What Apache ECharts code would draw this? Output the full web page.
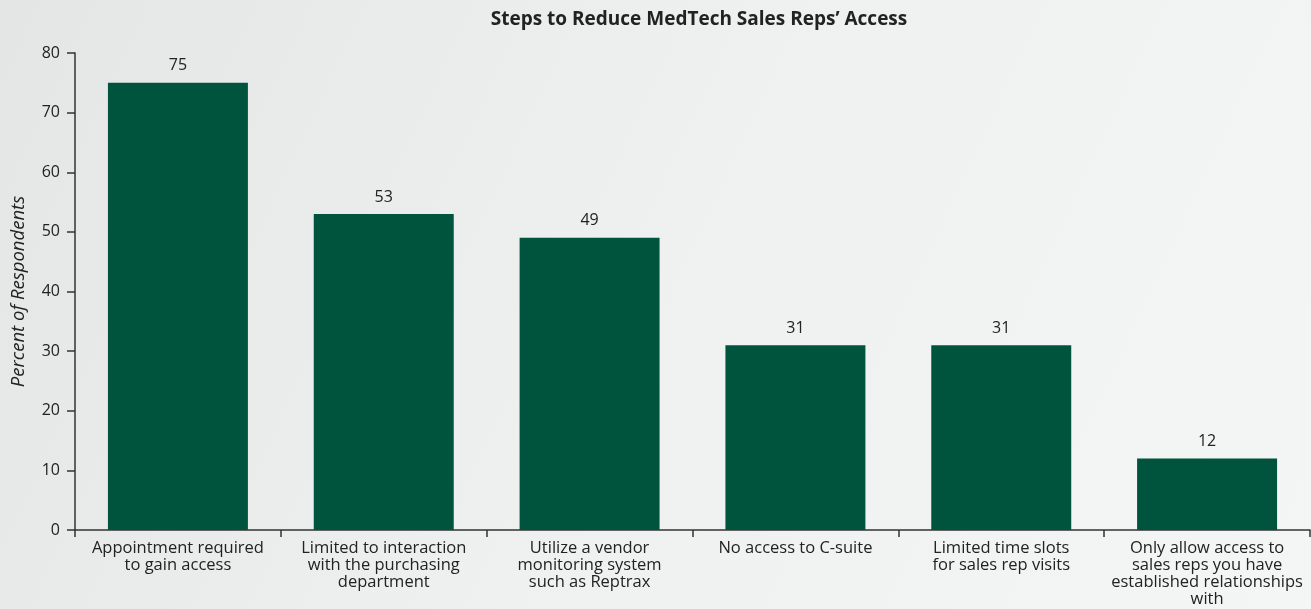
<!DOCTYPE html>
<html>
<head>
<meta charset="utf-8">
<script src="https://cdn.jsdelivr.net/npm/echarts@6/dist/echarts.min.js"></script>
<style>
html,body{margin:0;padding:0;}
#c{width:1311px;height:609px;}
</style>
</head>
<body>
<div id="c"></div>
<script>
const categories = [
  "Appointment required\nto gain access",
  "Limited to interaction\nwith the purchasing\ndepartment",
  "Utilize a vendor\nmonitoring system\nsuch as Reptrax",
  "No access to C-suite",
  "Limited time slots\nfor sales rep visits",
  "Only allow access to\nsales reps you have\nestablished relationships\nwith"
];
const values = [75, 53, 49, 31, 31, 12];
const yTicks = [0, 10, 20, 30, 40, 50, 60, 70, 80];

const chart = echarts.init(document.getElementById('c'));
const font = '"Open Sans", "Noto Sans", sans-serif';
chart.setOption({
  backgroundColor: {
    type: 'linear', x: 0, y: 0, x2: 1, y2: 1,
    colorStops: [
      {offset: 0, color: '#e4e5e5'},
      {offset: 0.5, color: '#eff0f0'},
      {offset: 1, color: '#f4f5f5'}
    ]
  },
  title: {
    text: "Steps to Reduce MedTech Sales Reps\u2019 Access",
    left: 694, top: 5, textAlign: 'center',
    textStyle: {fontFamily: font, fontWeight: 'bold', fontSize: 19, color: '#222'}
  },
  grid: {left: 75, right: 1, top: 53, bottom: 79, containLabel: false, outerBoundsMode: 'none'},
  xAxis: {
    type: 'category',
    data: categories,
    axisLine: {lineStyle: {color: '#333', width: 1.5}},
    axisTick: {show: true, length: 7, alignWithLabel: false, lineStyle: {color: '#333', width: 1.5}},
    axisLabel: {
      interval: 0, margin: 10, fontFamily: font, fontSize: 16.5, color: '#222',
      lineHeight: 17, align: 'center'
    }
  },
  yAxis: {
    type: 'value', min: 0, max: 80, interval: 10,
    name: 'Percent of Respondents',
    nameLocation: 'middle', nameGap: 47, nameRotate: 90,
    nameTextStyle: {fontFamily: font, fontStyle: 'italic', fontSize: 18.5, color: '#222'},
    axisLine: {show: true, lineStyle: {color: '#333', width: 1.5}},
    axisTick: {show: true, length: 8, lineStyle: {color: '#333', width: 1.5}},
    splitLine: {show: false},
    axisLabel: {
      fontFamily: font, fontSize: 16, color: '#222', margin: 15,
      formatter: v => yTicks.includes(v) ? String(v) : ''
    }
  },
  series: [{
    type: 'bar',
    data: values,
    barWidth: '68%',
    itemStyle: {color: '#00533c'},
    label: {
      show: true, position: 'top', distance: 9,
      fontFamily: font, fontSize: 16, color: '#222'
    }
  }]
});
</script>
</body>
</html>
